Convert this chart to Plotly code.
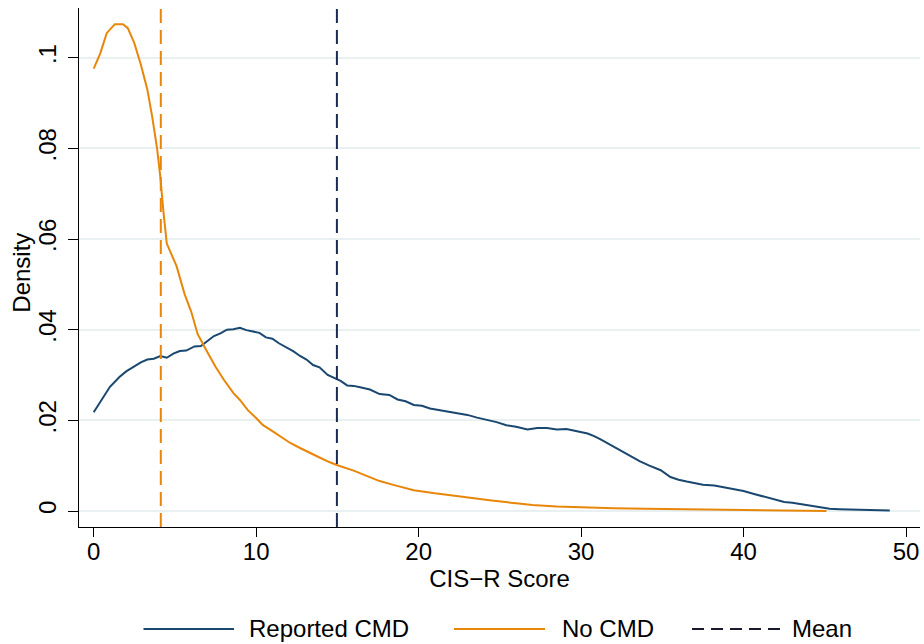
import plotly.graph_objects as go

# ---- data ----
cmd_x = [0, 0.5, 1.0, 1.6, 2.0, 2.4, 2.9, 3.3, 3.7, 4.1, 4.5, 4.9, 5.3, 5.7, 6.2, 6.6, 7.0, 7.4, 7.8,
         8.2, 8.6, 9.0, 9.4, 9.8, 10.2, 10.6, 11.0, 11.4, 11.8, 12.3, 12.7, 13.1, 13.5, 13.9, 14.4,
         14.8, 15.2, 15.6, 16.0, 16.4, 17.0, 17.6, 18.2, 18.7, 19.2, 19.7, 20.2, 20.7, 21.3, 21.8,
         22.4, 23.0, 23.6, 24.2, 24.8, 25.4, 26.0, 26.7, 27.3, 27.9, 28.5, 29.1, 29.7, 30.4, 30.8,
         31.2, 32.0, 32.4, 33.0, 33.6, 34.2, 34.9, 35.5, 36.0, 36.5, 37.0, 37.5, 38.2, 38.8, 39.4,
         40.0, 40.7, 41.4, 42.0, 42.5, 43.0, 43.5, 44.1, 44.7, 45.3, 45.9, 46.8, 47.8, 49.0]
cmd_y = [0.0218, 0.0245, 0.0274, 0.0296, 0.0308, 0.0317, 0.0328, 0.0334, 0.0336, 0.0342, 0.0338,
         0.0347, 0.0353, 0.0354, 0.0363, 0.0364, 0.0375, 0.0386, 0.0392, 0.0400, 0.0401, 0.0404,
         0.0399, 0.0396, 0.0393, 0.0383, 0.0380, 0.0370, 0.0362, 0.0352, 0.0342, 0.0334, 0.0322,
         0.0317, 0.0300, 0.0293, 0.0287, 0.0277, 0.0276, 0.0273, 0.0268, 0.0258, 0.0256, 0.0246,
         0.0242, 0.0234, 0.0232, 0.0226, 0.0222, 0.0220, 0.0215, 0.0212, 0.0206, 0.0201, 0.0196,
         0.0189, 0.0186, 0.0180, 0.0183, 0.0183, 0.0180, 0.0181, 0.0176, 0.0171, 0.0165, 0.0158,
         0.0142, 0.0134, 0.0122, 0.0110, 0.0100, 0.0090, 0.0075, 0.0069, 0.0065, 0.0061, 0.0058,
         0.0056, 0.0052, 0.0048, 0.0044, 0.0037, 0.0030, 0.0024, 0.0020, 0.0018, 0.0015, 0.0011,
         0.0007, 0.0005, 0.0004, 0.0003, 0.0002, 0.0001]

nocmd_x = [0, 0.4, 0.8, 1.3, 1.8, 2.1, 2.5, 2.9, 3.3, 3.6, 3.9, 4.1, 4.3, 4.5, 5.1, 5.6, 6.0, 6.4,
           7.0, 7.5, 8.0, 8.6, 9.0, 9.5, 10.0, 10.4, 11.0, 11.5, 12.1, 12.7, 13.3, 13.9, 14.5, 15.0,
           16.0, 17.0, 17.6, 18.5, 19.7, 21.0, 22.0, 23.0, 24.5, 26.0, 27.0, 28.5, 30.0, 32.0, 34.0,
           36.0, 38.0, 40.0, 42.0, 45.1]
nocmd_y = [0.0976, 0.1009, 0.1054, 0.1074, 0.1074, 0.1065, 0.1032, 0.0985, 0.0930, 0.0870, 0.0800,
           0.0737, 0.0657, 0.0590, 0.0540, 0.0478, 0.0440, 0.0390, 0.0350, 0.0318, 0.0290, 0.0260,
           0.0245, 0.0222, 0.0205, 0.0190, 0.0176, 0.0164, 0.0150, 0.0139, 0.0128, 0.0118, 0.0108,
           0.0101, 0.0089, 0.0075, 0.0066, 0.0057, 0.0046, 0.0039, 0.0034, 0.0029, 0.0023, 0.0017,
           0.0013, 0.0010, 0.0008, 0.0006, 0.0005, 0.0004, 0.0003, 0.0002, 0.0001, 0.0000]

mean_cmd = 14.97
mean_nocmd = 4.13

y_tickvals = [0, 0.02, 0.04, 0.06, 0.08, 0.1]
y_ticktext = ["0", ".02", ".04", ".06", ".08", ".1"]
x_tickvals = [0, 10, 20, 30, 40, 50]

legend_labels = ["Reported CMD", "No CMD", "Mean"]

BLUE = "#1a476f"
ORANGE = "#e8860a"
NAVY = "#1c2a55"
FONT = "Liberation Sans, Arial, sans-serif"
FS = 24

fig = go.Figure()
fig.add_trace(go.Scatter(x=cmd_x, y=cmd_y, mode="lines", line=dict(color=BLUE, width=2),
                         name=legend_labels[0], showlegend=False))
fig.add_trace(go.Scatter(x=nocmd_x, y=nocmd_y, mode="lines", line=dict(color=ORANGE, width=2),
                         name=legend_labels[1], showlegend=False))

fig.add_shape(type="line", xref="x", yref="paper", x0=mean_nocmd, x1=mean_nocmd, y0=0, y1=1,
              line=dict(color=ORANGE, width=2, dash="14px,7px"))
fig.add_shape(type="line", xref="x", yref="paper", x0=mean_cmd, x1=mean_cmd, y0=0, y1=1,
              line=dict(color=NAVY, width=2, dash="14px,7px"))

# manual legend (Stata style, long samples)
leg_y = -0.1965
items = [(0.0767, 0.1843, 0.2000, BLUE, "solid"),
         (0.4459, 0.5541, 0.5720, ORANGE, "solid"),
         (0.7289, 0.8359, 0.8460, "#1a1a2e", "12px,7px")]
for (x0, x1, tx, col, dash), lab in zip(items, legend_labels):
    fig.add_shape(type="line", xref="paper", yref="paper", x0=x0, x1=x1, y0=leg_y, y1=leg_y,
                  line=dict(color=col, width=2, dash=dash))
    fig.add_annotation(xref="paper", yref="paper", x=tx, y=leg_y, text=lab, showarrow=False,
                       xanchor="left", yanchor="middle", font=dict(size=FS, color="black", family=FONT))

# y-axis title placed like Stata's
fig.add_annotation(xref="paper", yref="paper", x=-0.0678, y=0.49, text="Density", textangle=-90,
                   showarrow=False, xanchor="center", yanchor="middle",
                   font=dict(size=FS, color="black", family=FONT))

fig.update_layout(
    width=924, height=644,
    margin=dict(l=79, r=4, t=8, b=117, autoexpand=False),
    paper_bgcolor="white", plot_bgcolor="white",
    font=dict(family=FONT, size=FS, color="black"),
    showlegend=False,
)
fig.update_xaxes(range=[-0.905, 50.86], tickvals=x_tickvals, ticks="outside", ticklen=9,
                 tickwidth=1.2, tickcolor="black", showline=True, linecolor="black", linewidth=1.3,
                 showgrid=False, zeroline=False, ticklabelstandoff=-6,
                 title=dict(text="CIS\u2212R Score", standoff=0, font=dict(size=FS)),
                 tickfont=dict(size=FS))
fig.update_yaxes(range=[-0.00353, 0.11096], tickvals=y_tickvals, ticktext=y_ticktext,
                 tickangle=-90, ticks="outside", ticklen=10, tickwidth=1.2, tickcolor="black",
                 showline=True, linecolor="black", linewidth=1.3, ticklabelstandoff=2,
                 showgrid=True, gridcolor="#e9f0f2", gridwidth=1.5, zeroline=False,
                 tickfont=dict(size=FS))

fig.write_html("out.html", config={"displayModeBar": False},
               post_script="document.body.style.margin='0';document.body.style.padding='0';")
